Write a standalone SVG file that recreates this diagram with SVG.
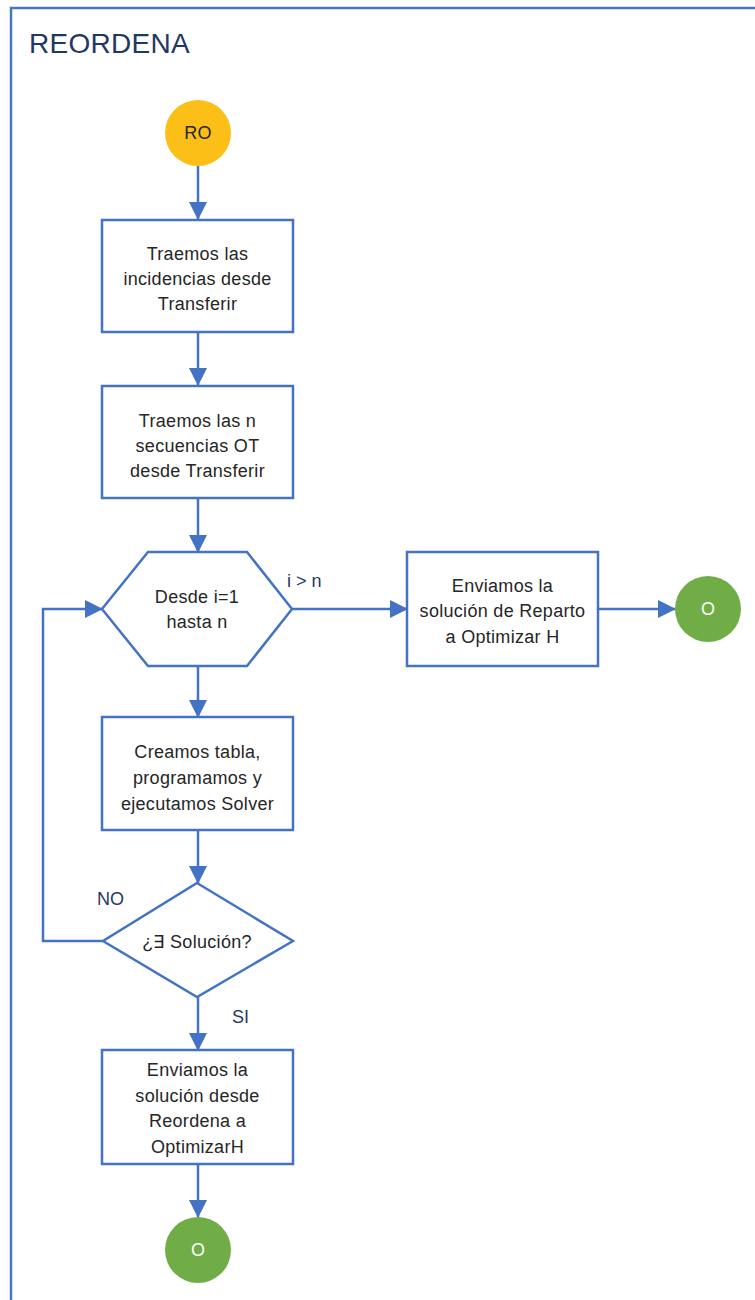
<svg xmlns="http://www.w3.org/2000/svg" width="755" height="1300" viewBox="0 0 755 1300">
  <style>
    .frame { fill: #ffffff; stroke: #4A74BF; stroke-width: 2.5; }
    .shape { fill: #ffffff; stroke: #4472C4; stroke-width: 2.5; }
    .edge { fill: none; stroke: #4472C4; stroke-width: 2.5; }
    .lbl { font-family: "Liberation Sans", Arial, sans-serif; font-size: 18px; fill: #262626; text-anchor: middle; letter-spacing: 0.3px; }
    .edge-lbl { font-family: "Liberation Sans", Arial, sans-serif; font-size: 18px; fill: #1F3864; }
    .title { font-family: "Liberation Sans", Arial, sans-serif; font-size: 28px; fill: #1F3864; letter-spacing: 0.3px; }
    .start { fill: #FCBF17; }
    .end { fill: #70AD47; }
    .end-lbl { font-family: "Liberation Sans", Arial, sans-serif; font-size: 18px; fill: #ffffff; text-anchor: middle; }
  </style>
  <defs>
    <marker id="arrow" markerUnits="userSpaceOnUse" markerWidth="18" markerHeight="18" refX="17" refY="9" orient="auto">
      <path d="M0,0 L18,9 L0,18 z" fill="#4472C4"/>
    </marker>
  </defs>

  <!-- swimlane frame -->
  <rect class="frame" x="11" y="8" width="760" height="1310"/>
  <text class="title" x="29" y="53">REORDENA</text>

  <!-- connectors -->
  <g id="connectors">
    <line class="edge" x1="198" y1="166" x2="198" y2="219" marker-end="url(#arrow)"/>
    <line class="edge" x1="198" y1="332" x2="198" y2="385" marker-end="url(#arrow)"/>
    <line class="edge" x1="198" y1="498" x2="198" y2="552" marker-end="url(#arrow)"/>
    <line class="edge" x1="292" y1="609" x2="407" y2="609" marker-end="url(#arrow)"/>
    <line class="edge" x1="598" y1="609" x2="675" y2="609" marker-end="url(#arrow)"/>
    <line class="edge" x1="198" y1="666" x2="198" y2="717" marker-end="url(#arrow)"/>
    <line class="edge" x1="198" y1="830" x2="198" y2="883" marker-end="url(#arrow)"/>
    <polyline class="edge" points="103,941 43,941 43,609 102,609" marker-end="url(#arrow)"/>
    <line class="edge" x1="198" y1="997" x2="198" y2="1050" marker-end="url(#arrow)"/>
    <line class="edge" x1="198" y1="1164" x2="198" y2="1217" marker-end="url(#arrow)"/>
    <text class="edge-lbl" x="287" y="587">i &gt; n</text>
    <text class="edge-lbl" x="97" y="905">NO</text>
    <text class="edge-lbl" x="232" y="1023">SI</text>
  </g>

  <!-- start -->
  <g id="start-ro">
    <circle class="start" cx="198" cy="133" r="33"/>
    <text class="lbl" x="198" y="139" letter-spacing="0">RO</text>
  </g>

  <g id="traer-incidencias">
    <rect class="shape" x="102" y="220" width="191" height="112"/>
    <text class="lbl" x="197.5" y="260">Traemos las</text>
    <text class="lbl" x="197.5" y="285">incidencias desde</text>
    <text class="lbl" x="197.5" y="310">Transferir</text>
  </g>

  <g id="traer-secuencias">
    <rect class="shape" x="102" y="386" width="191" height="112"/>
    <text class="lbl" x="197.5" y="427">Traemos las n</text>
    <text class="lbl" x="197.5" y="452">secuencias OT</text>
    <text class="lbl" x="197.5" y="477">desde Transferir</text>
  </g>

  <g id="bucle">
    <polygon class="shape" points="102,609 148,552 247,552 292,609 247,666 148,666"/>
    <text class="lbl" x="197" y="603">Desde i=1</text>
    <text class="lbl" x="197" y="628">hasta n</text>
  </g>

  <g id="enviar-reparto">
    <rect class="shape" x="407" y="552" width="191" height="114"/>
    <text class="lbl" x="502.5" y="592">Enviamos la</text>
    <text class="lbl" x="502.5" y="617">solución de Reparto</text>
    <text class="lbl" x="502.5" y="643">a Optimizar H</text>
  </g>

  <g id="fin-reparto">
    <circle class="end" cx="708" cy="609" r="33"/>
    <text class="end-lbl" x="708" y="615">O</text>
  </g>

  <g id="solver">
    <rect class="shape" x="102" y="717" width="191" height="113"/>
    <text class="lbl" x="197.5" y="758">Creamos tabla,</text>
    <text class="lbl" x="197.5" y="784">programamos y</text>
    <text class="lbl" x="197.5" y="810">ejecutamos Solver</text>
  </g>

  <g id="hay-solucion">
    <polygon class="shape" points="197,883 293,941 197,997 103,941"/>
    <text class="lbl" x="197" y="948">¿∃ Solución?</text>
  </g>

  <g id="enviar-solucion">
    <rect class="shape" x="102" y="1050" width="191" height="114"/>
    <text class="lbl" x="197.5" y="1076">Enviamos la</text>
    <text class="lbl" x="197.5" y="1102">solución desde</text>
    <text class="lbl" x="197.5" y="1127">Reordena a</text>
    <text class="lbl" x="197.5" y="1153">OptimizarH</text>
  </g>

  <g id="fin">
    <circle class="end" cx="198" cy="1250" r="33"/>
    <text class="end-lbl" x="198" y="1256">O</text>
  </g>
</svg>
